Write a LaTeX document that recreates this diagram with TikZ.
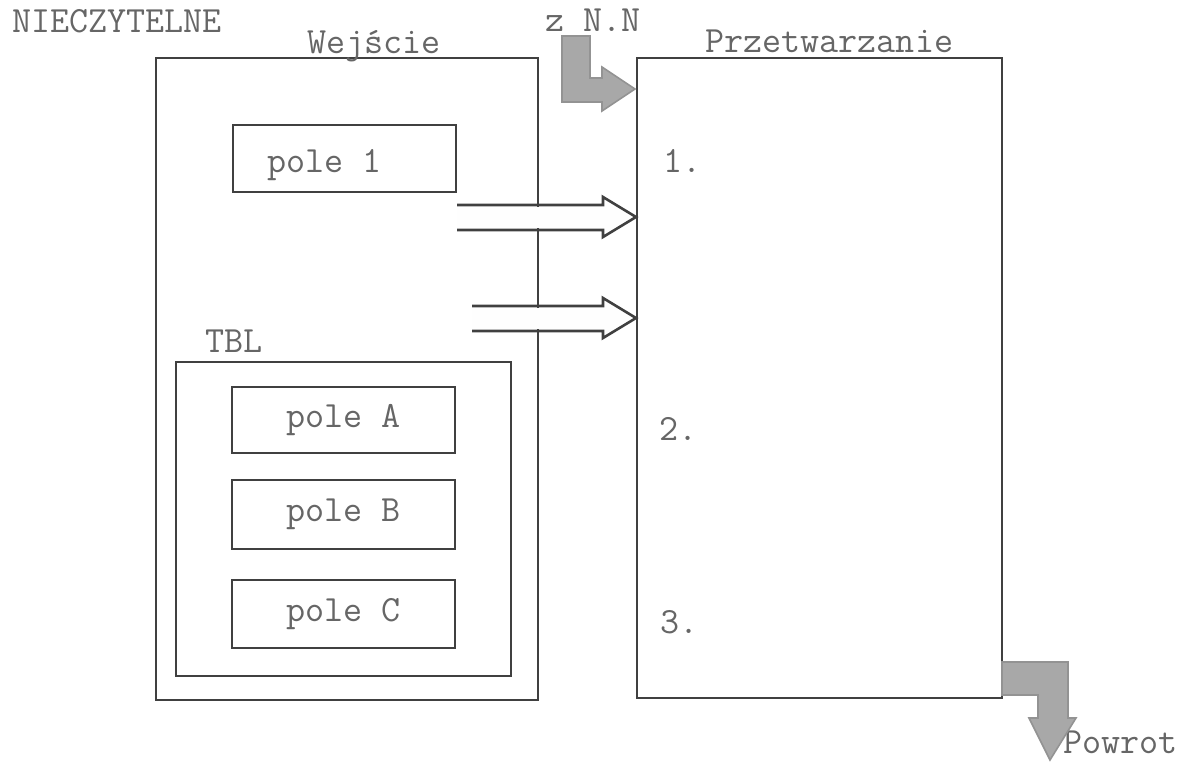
\documentclass[tikz,border=0pt]{standalone}
\usepackage{fontspec}
\usetikzlibrary{calc}
\definecolor{ink}{HTML}{404040}
\definecolor{txt}{HTML}{666666}
\definecolor{paper}{HTML}{FEFEFE}
\tikzset{
  box/.style={draw=ink, line width=1.3pt, rectangle, inner sep=0pt, text=txt},
  lbl/.style={text=txt, inner sep=0pt, anchor=base west},
  hollow/.style={draw=ink, line width=1.3pt, line join=miter},
  gap/.style={fill=paper},
  grayarrow/.style={fill=gray!68, draw=gray!85, line width=0.8pt},
}
\begin{document}
\begin{tikzpicture}[x=0.5pt,y=-0.5pt,font=\ttfamily\fontsize{18.5}{20}\selectfont]
\useasboundingbox (0,0) rectangle (1191,762);
% main boxes
\node[box, minimum width=191pt, minimum height=321pt] (wej) at (347,379) {};
\node[box, minimum width=182.5pt, minimum height=320pt] (prz) at (819.5,378) {};
% inner boxes
\node[box, minimum width=111.5pt, minimum height=33.5pt] (p1) at (344.5,158.5) {};
\node[lbl] (p1t) at (267,172) {pole 1};
\node[box, minimum width=167.5pt, minimum height=157pt] (tbl) at (343.5,519) {};
\node[box, minimum width=111.5pt, minimum height=33pt] (pA) at (343.5,420) {pole A};
\node[box, minimum width=111.5pt, minimum height=34.5pt] (pB) at (343.5,514.5) {pole B};
\node[box, minimum width=111.5pt, minimum height=34pt] (pC) at (343.5,614) {pole C};
% labels
\node[lbl] (nie) at (12,32) {NIECZYTELNE};
\node[lbl] (wejt) at (307,53) {Wejście};
\node[lbl] (zn) at (545,31) {z N.N};
\node[lbl] (przt) at (705,52) {Przetwarzanie};
\node[lbl] (tblt) at (205,352) {TBL};
\node[lbl] (n1) at (663,172) {1.};
\node[lbl] (n2) at (659,440) {2.};
\node[lbl] (n3) at (660,633) {3.};
\node[lbl] (pow) at (1063,753) {Powrot};
% hollow arrows from Wejscie to Przetwarzanie
\coordinate (a1s) at (457,205);
\coordinate (a1b) at (457,230);
\coordinate (a1t) at (636,217);
\path[gap] (457,207) rectangle (603,228);
\path[gap] (603,199) -- (632,217) -- (603,235) -- cycle;
\draw[hollow] (a1s) -- (603,205) -- (603,197) -- (a1t) -- (603,237) -- (603,230) -- (a1b);
\coordinate (a2s) at (472,306);
\coordinate (a2b) at (472,331);
\coordinate (a2t) at (636,318);
\path[gap] (472,308) rectangle (603,329);
\path[gap] (603,300) -- (632,318) -- (603,336) -- cycle;
\draw[hollow] (a2s) -- (603,306) -- (603,298) -- (a2t) -- (603,338) -- (603,331) -- (a2b);
% gray arrow z N.N
\coordinate (gt) at (635,89);
\filldraw[grayarrow] (562,36) -- (590,36) -- (590,78) -- (602,78) -- (602,67) -- (gt) -- (602,111) -- (602,102) -- (562,102) -- cycle;
% gray arrow Powrot
\coordinate (gs) at (1002,662);
\filldraw[grayarrow] (gs) -- (1068,662) -- (1068,718) -- (1076,718) -- (1050,760) -- (1029,718) -- (1038,718) -- (1038,695) -- (1002,695) -- cycle;
\end{tikzpicture}
\end{document}
